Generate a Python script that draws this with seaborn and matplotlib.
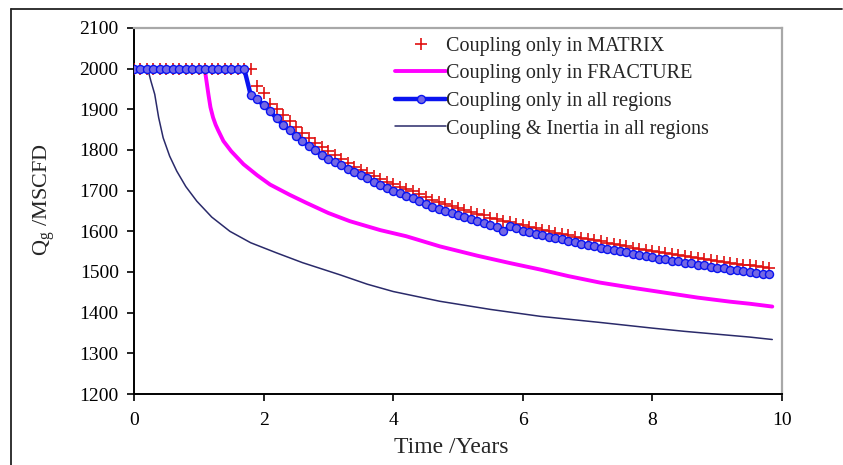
import numpy as np
import pandas as pd
import matplotlib
matplotlib.use("Agg")
import matplotlib.pyplot as plt
import seaborn as sns
from matplotlib.lines import Line2D

# ---------------- data ----------------
labels = ["Coupling only in MATRIX", "Coupling only in FRACTURE",
          "Coupling only in all regions", "Coupling & Inertia in all regions"]

# Coupling only in MATRIX (red +), time step 0.1 yr
matrix_t = np.round(np.arange(0.0, 9.85, 0.1), 1)
matrix_q = [2000] * 19 + [
    1958, 1939, 1914, 1900, 1887, 1871, 1857, 1843, 1830, 1818,
    1807, 1797, 1787, 1777, 1768, 1759, 1751, 1743, 1736, 1729,
    1722, 1716, 1710, 1704, 1698, 1692, 1685, 1678, 1672, 1667,
    1662, 1657, 1652, 1648, 1643, 1639, 1634, 1630, 1626, 1622,
    1618, 1615, 1611, 1607, 1604, 1600, 1597, 1594, 1590, 1587,
    1584, 1581, 1578, 1575, 1572, 1569, 1566, 1563, 1560, 1557,
    1554, 1552, 1549, 1546, 1544, 1541, 1539, 1536, 1534, 1531,
    1529, 1527, 1525, 1522, 1520, 1518, 1516, 1514, 1512, 1509]

# Coupling only in all regions (blue line + circles)
all_t = np.round(np.arange(0.0, 9.85, 0.1), 1)
all_q = [2000] * 18 + [
    1936, 1925, 1910, 1895, 1878, 1862, 1848, 1835, 1822, 1810,
    1799, 1788, 1779, 1770, 1762, 1754, 1746, 1738, 1730, 1722,
    1715, 1707, 1700, 1694, 1688, 1682, 1675, 1667, 1660, 1654,
    1649, 1645, 1641, 1636, 1631, 1626, 1621, 1616, 1610, 1600,
    1612, 1607, 1602, 1598, 1594, 1590, 1587, 1583, 1580, 1576,
    1573, 1569, 1566, 1563, 1560, 1557, 1554, 1551, 1548, 1545,
    1542, 1539, 1536, 1533, 1531, 1528, 1526, 1523, 1521, 1518,
    1516, 1513, 1511, 1509, 1506, 1504, 1502, 1500, 1498, 1496,
    1494]

# Coupling only in FRACTURE (magenta line)
frac_t = [0, 1.08, 1.10, 1.12, 1.15, 1.18, 1.22, 1.26, 1.3, 1.38, 1.5, 1.69,
          1.9, 2.1, 2.4, 2.66, 3.0, 3.33, 3.8, 4.2, 4.72, 5.3, 5.8, 6.27, 6.7,
          7.19, 7.7, 8.2, 8.7, 9.2, 9.5, 9.85]
frac_q = [2000, 2000, 1990, 1968, 1935, 1905, 1880, 1862, 1848, 1822, 1797,
          1765, 1738, 1715, 1690, 1670, 1645, 1625, 1603, 1588, 1563, 1540,
          1522, 1506, 1490, 1474, 1461, 1449, 1437, 1427, 1422, 1415]

# Coupling & Inertia in all regions (navy line)
inert_t = [0, 0.2, 0.22, 0.26, 0.32, 0.38, 0.45, 0.55, 0.66, 0.8, 0.97, 1.2,
           1.48, 1.8, 2.2, 2.6, 3.18, 3.6, 4.0, 4.72, 5.5, 6.27, 7.19, 8.0,
           8.5, 9.0, 9.5, 9.85]
inert_q = [2000, 2000, 1995, 1970, 1937, 1880, 1830, 1785, 1748, 1710, 1674,
           1635, 1600, 1572, 1547, 1523, 1493, 1470, 1452, 1428, 1408, 1391,
           1376, 1362, 1354, 1347, 1340, 1334]

x_ticks = [0, 2, 4, 6, 8, 10]
y_ticks = list(range(1200, 2101, 100))

# ---------------- plot ----------------
sns.set_style("ticks")
plt.rcParams["font.family"] = ["Liberation Serif", "DejaVu Serif"]
plt.rcParams["mathtext.fontset"] = "custom"
plt.rcParams["mathtext.rm"] = "Liberation Serif"

fig = plt.figure(figsize=(8.43, 4.65), dpi=100)
ax = fig.add_axes([134 / 843, 1 - 394 / 465, (782 - 134) / 843, (394 - 28) / 465])

df_m = pd.DataFrame({"t": matrix_t, "q": matrix_q})
df_a = pd.DataFrame({"t": all_t, "q": all_q})
df_f = pd.DataFrame({"t": frac_t, "q": frac_q})
df_i = pd.DataFrame({"t": inert_t, "q": inert_q})

c_red = "#e01010"
c_mag = "#ff00ff"
c_blue = "#0a14f0"
c_navy = "#2a2a6a"
c_face = "#7468e4"

sns.lineplot(data=df_m, x="t", y="q", ax=ax, estimator=None, sort=False,
             linestyle="", marker="+", markersize=8, markeredgewidth=1.2,
             color=c_red, markeredgecolor=c_red, zorder=3)
sns.lineplot(data=df_f, x="t", y="q", ax=ax, estimator=None, sort=False,
             color=c_mag, linewidth=2.8, zorder=2)
sns.lineplot(data=df_a, x="t", y="q", ax=ax, estimator=None, sort=False,
             color=c_blue, linewidth=3.2, marker="o", markersize=5.8,
             markerfacecolor=c_face, markeredgecolor=c_blue,
             markeredgewidth=1.0, zorder=4)
sns.lineplot(data=df_i, x="t", y="q", ax=ax, estimator=None, sort=False,
             color=c_navy, linewidth=1.1, zorder=2)

ax.set_xlim(0, 10)
ax.set_ylim(1200, 2100)
ax.set_xticks(x_ticks)
ax.set_yticks(y_ticks)
ax.tick_params(axis="both", direction="out", length=5, width=1.2,
               labelsize=14, colors="black", pad=6)
ax.tick_params(axis="x", pad=8)

for side in ["left", "bottom"]:
    ax.spines[side].set_color("black")
    ax.spines[side].set_linewidth(1.4)
for side in ["top", "right"]:
    ax.spines[side].set_color("#a8a8a8")
    ax.spines[side].set_linewidth(1.6)

ax.set_xlabel("Time /Years", fontsize=17)
ax.set_ylabel(r"Q$_\mathregular{g}$ /MSCFD", fontsize=16)
ax.xaxis.set_label_coords(0.49, -0.118)
ax.yaxis.set_label_coords(-0.118, 0.53)

handles = [
    Line2D([], [], linestyle="", marker="+", markersize=8, markeredgewidth=1.2, color=c_red),
    Line2D([], [], color=c_mag, linewidth=2.8),
    Line2D([], [], color=c_blue, linewidth=3.2, marker="o", markersize=5.8,
           markerfacecolor=c_face, markeredgecolor=c_blue),
    Line2D([], [], color=c_navy, linewidth=1.1),
]
ax.legend(handles, labels, loc="upper left", bbox_to_anchor=(0.403, 0.976),
          frameon=False, fontsize=14.5, handlelength=2.55, handletextpad=0.0,
          labelspacing=0.42, borderaxespad=0.0, borderpad=0.0)

# outer frame (left and top edges of the original image border)
fig.add_artist(Line2D([11 / 843, 11 / 843], [0, 1 - 9 / 465],
                      transform=fig.transFigure, color="#222222", linewidth=1.3))
fig.add_artist(Line2D([11 / 843, 842 / 843], [1 - 9 / 465, 1 - 9 / 465],
                      transform=fig.transFigure, color="#222222", linewidth=1.3))

fig.savefig("out.png", dpi=100)
